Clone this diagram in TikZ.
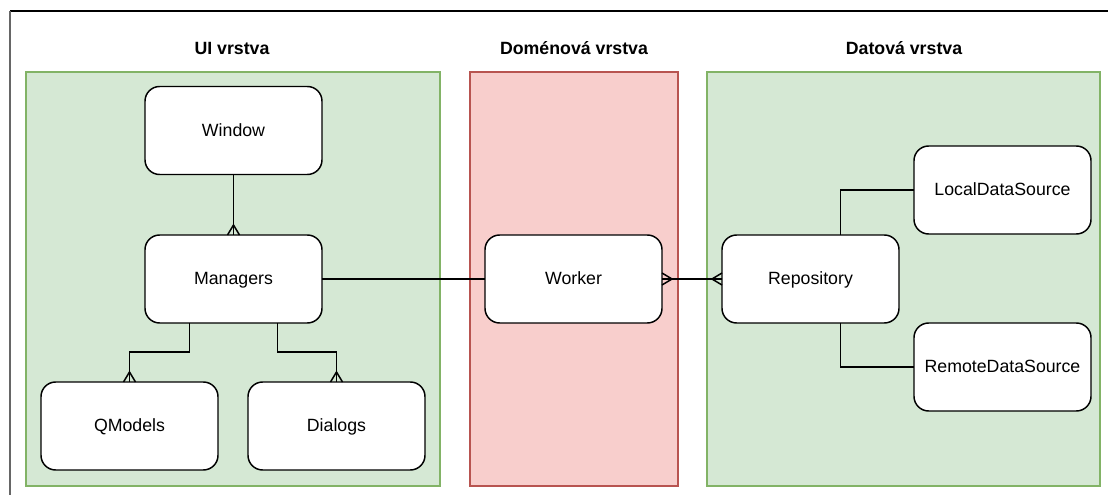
\documentclass[tikz,border=0pt]{standalone}
\usepackage{fontspec}
\setmainfont{Liberation Sans}
\usetikzlibrary{calc}
\definecolor{greenfill}{HTML}{D5E8D4}
\definecolor{greenline}{HTML}{82B366}
\definecolor{redfill}{HTML}{F8CECC}
\definecolor{redline}{HTML}{B85450}
\begin{document}
\begin{tikzpicture}[x=0.75pt,y=-0.75pt,
  layer/.style={draw=#1line,fill=#1fill,line width=0.9pt,minimum width=0pt},
  entity/.style={draw=black,fill=white,line width=1.1pt,rounded corners=11pt,
    minimum width=132.75pt,minimum height=66pt,inner sep=0pt,outer sep=0pt,
    text height=11pt,text depth=2.2pt,
    font=\fontsize{13.3}{16}\selectfont},
  title/.style={font=\fontsize{13.3}{16}\selectfont\bfseries,
    text height=11pt,text depth=2.2pt},
  conn/.style={draw=black,line width=1.1pt},
  crow/.pic={\draw[conn] (-4.5pt,0) -- (0,7.5pt) -- (4.5pt,0);}]
\useasboundingbox (0,0) rectangle (1108,495);
\fill[white] (0,0) rectangle (1108,495);
% outer frame edges
\draw[black,line width=0.8pt] (10,11) -- (1108,11);
\draw[black!60,line width=1.5pt] (10,11) -- (10,495);
% layers
\draw[layer=green] (26,72) rectangle (440,486);
\draw[layer=red] (470,72) rectangle (678,486);
\draw[layer=green] (707,72) rectangle (1100,486);
\node[title] (tUI) at (232,49) {UI vrstva};
\node[title] (tDom) at (574,49) {Doménová vrstva};
\node[title] (tData) at (904,49) {Datová vrstva};
% entities
\node[entity] (Window) at (233.5,130.5) {Window};
\node[entity] (Managers) at (233.5,279) {Managers};
\node[entity] (QModels) at (129.5,426) {QModels};
\node[entity] (Dialogs) at (336.5,426) {Dialogs};
\node[entity] (Worker) at (573.5,279) {Worker};
\node[entity] (Repository) at (810.5,279) {Repository};
\node[entity] (Local) at (1002.5,190) {LocalDataSource};
\node[entity] (Remote) at (1002.5,367) {RemoteDataSource};
% connectors
\draw[conn] (Window.south) -- (Managers.north);
\pic at (Managers.north) {crow};
\draw[conn] ($(Managers.south)+(-44,0)$) -- ++(0,29) -| (QModels.north);
\pic at (QModels.north) {crow};
\draw[conn] ($(Managers.south)+(44,0)$) -- ++(0,29) -| (Dialogs.north);
\pic at (Dialogs.north) {crow};
\draw[conn] (Managers.east) -- (Worker.west);
\draw[conn] (Worker.east) -- (Repository.west);
\pic[rotate=-90] at (Worker.east) {crow};
\pic[rotate=90] at (Repository.west) {crow};
\draw[conn] ($(Repository.north)+(30,0)$) |- (Local.west);
\draw[conn] ($(Repository.south)+(30,0)$) |- (Remote.west);
\end{tikzpicture}
\end{document}
